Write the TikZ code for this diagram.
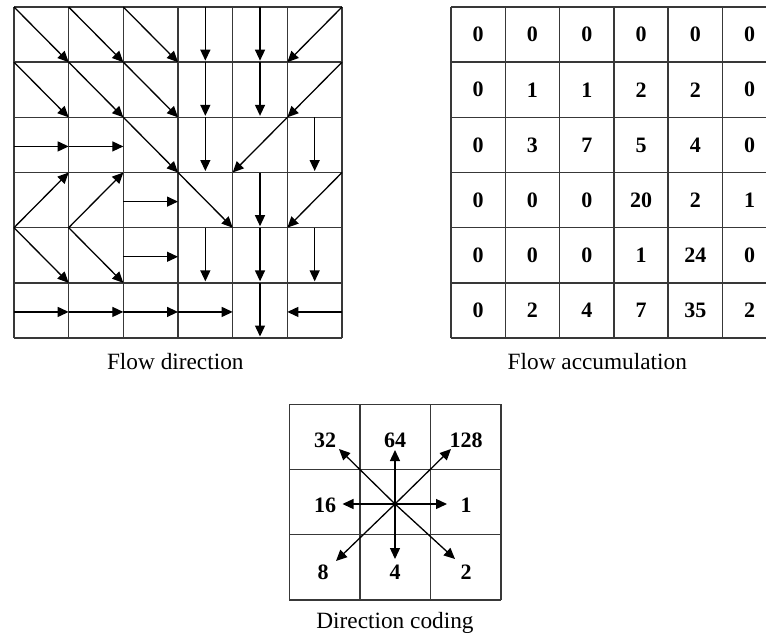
\documentclass[tikz,border=0pt]{standalone}
\usepackage{fontspec}
\setmainfont{Liberation Serif}
\usetikzlibrary{arrows.meta,calc}
\begin{document}
\begin{tikzpicture}[x=1pt,y=-1pt,
  gridline/.style={draw=black!78,line width=1.5pt},
  fa/.style={draw=black,line width=1.3pt,-{Triangle[length=11pt,width=10pt]}},
  num/.style={font=\fontsize{22}{26}\selectfont\bfseries,inner sep=0pt},
  capt/.style={font=\fontsize{23.3}{27}\selectfont,anchor=base,inner sep=0pt}]
\useasboundingbox (0,0) rectangle (766,641);
\def\lw{54.67}\def\lh{55.17}
% ---------- left grid: corners and edge midpoints
\foreach \i in {0,...,6}{\foreach \j in {0,...,6}{
  \coordinate (p-\i-\j) at ({14+\i*\lw},{7+\j*\lh});
  \coordinate (t-\i-\j) at ({14+(\i+0.5)*\lw},{7+\j*\lh});
  \coordinate (l-\i-\j) at ({14+\i*\lw},{7+(\j+0.5)*\lh+1.5});
}}
\foreach \i in {0,...,6}{\draw[gridline] (p-\i-0) -- (p-\i-6); \draw[gridline] (p-0-\i) -- (p-6-\i);}
% SE arrows
\foreach \c/\r in {0/0,1/0,2/0,0/1,1/1,2/1,2/2,3/3,0/4,1/4}{
  \pgfmathtruncatemacro\cn{\c+1}\pgfmathtruncatemacro\rn{\r+1}
  \draw[fa] (p-\c-\r) -- (p-\cn-\rn);}
% S arrows
\foreach \c/\r in {3/0,4/0,3/1,4/1,3/2,5/2,4/3,3/4,4/4,5/4,4/5}{
  \pgfmathtruncatemacro\rn{\r+1}
  \draw[fa,shorten >=1.5pt] (t-\c-\r) -- (t-\c-\rn);}
% SW arrows
\foreach \c/\r in {5/0,5/1,4/2,5/3}{
  \pgfmathtruncatemacro\cn{\c+1}\pgfmathtruncatemacro\rn{\r+1}
  \draw[fa] (p-\cn-\r) -- (p-\c-\rn);}
% E arrows
\foreach \c/\r in {0/2,1/2,2/3,2/4,0/5,1/5,2/5,3/5}{
  \pgfmathtruncatemacro\cn{\c+1}
  \draw[fa] (l-\c-\r) -- (l-\cn-\r);}
% NE arrows
\foreach \c/\r in {0/3,1/3}{
  \pgfmathtruncatemacro\cn{\c+1}\pgfmathtruncatemacro\rn{\r+1}
  \draw[fa] (p-\c-\rn) -- (p-\cn-\r);}
% W arrow
\draw[fa] (l-6-5) -- (l-5-5);
\node[capt] (capL) at (175.3,369) {Flow direction};
% ---------- right grid
\def\rw{54.3}
\foreach \i in {0,...,6}{\foreach \j in {0,...,6}{
  \coordinate (q-\i-\j) at ({451+\i*\rw},{7+\j*\lh});}}
\foreach \j in {0,...,6}{\draw[gridline] (q-0-\j) -- (766,{7+\j*\lh});}
\foreach \i in {0,...,5}{\draw[gridline] (q-\i-0) -- (q-\i-6);}
\foreach \r/\vals in {0/{0,0,0,0,0,0},1/{0,1,1,2,2,0},2/{0,3,7,5,4,0},3/{0,0,0,20,2,1},4/{0,0,0,1,24,0},5/{0,2,4,7,35,2}}{
  \foreach \v [count=\k from 0] in \vals{
    \node[num] (n-\k-\r) at ({451+(\k+0.5)*\rw},{7+(\r+0.5)*\lh}) {\v};}}
\node[capt] (capR) at (597.3,369) {Flow accumulation};
% ---------- direction coding
\def\dw{70.6}\def\dh{65.2}
\foreach \i in {0,...,3}{
  \draw[gridline] ({289.3+\i*\dw},404.3) -- ({289.3+\i*\dw},600);
  \draw[gridline] (289.3,{404.3+\i*\dh}) -- (501,{404.3+\i*\dh});}
\coordinate (ctr) at (395,504);
\coordinate (eN) at (395,450);
\coordinate (eS) at (395,559);
\coordinate (eE) at (447,504);
\coordinate (eW) at (342.5,504);
\coordinate (eNW) at (339,449);
\coordinate (eNE) at (451,449);
\coordinate (eSW) at (336,561);
\coordinate (eSE) at (455,559);
\foreach \e in {eN,eS,eE,eW,eNW,eNE,eSW,eSE}{\draw[fa] (ctr) -- (\e);}
\node[num] (d32) at (325,440) {32};
\node[num] (d64) at (395,440) {64};
\node[num] (d128) at (466,440) {128};
\node[num] (d16) at (325,505) {16};
\node[num] (d1) at (466,505) {1};
\node[num] (d8) at (323,572) {8};
\node[num] (d4) at (395,572) {4};
\node[num] (d2) at (466,572) {2};
\node[capt] (capD) at (395,628.3) {Direction coding};
\end{tikzpicture}
\end{document}
